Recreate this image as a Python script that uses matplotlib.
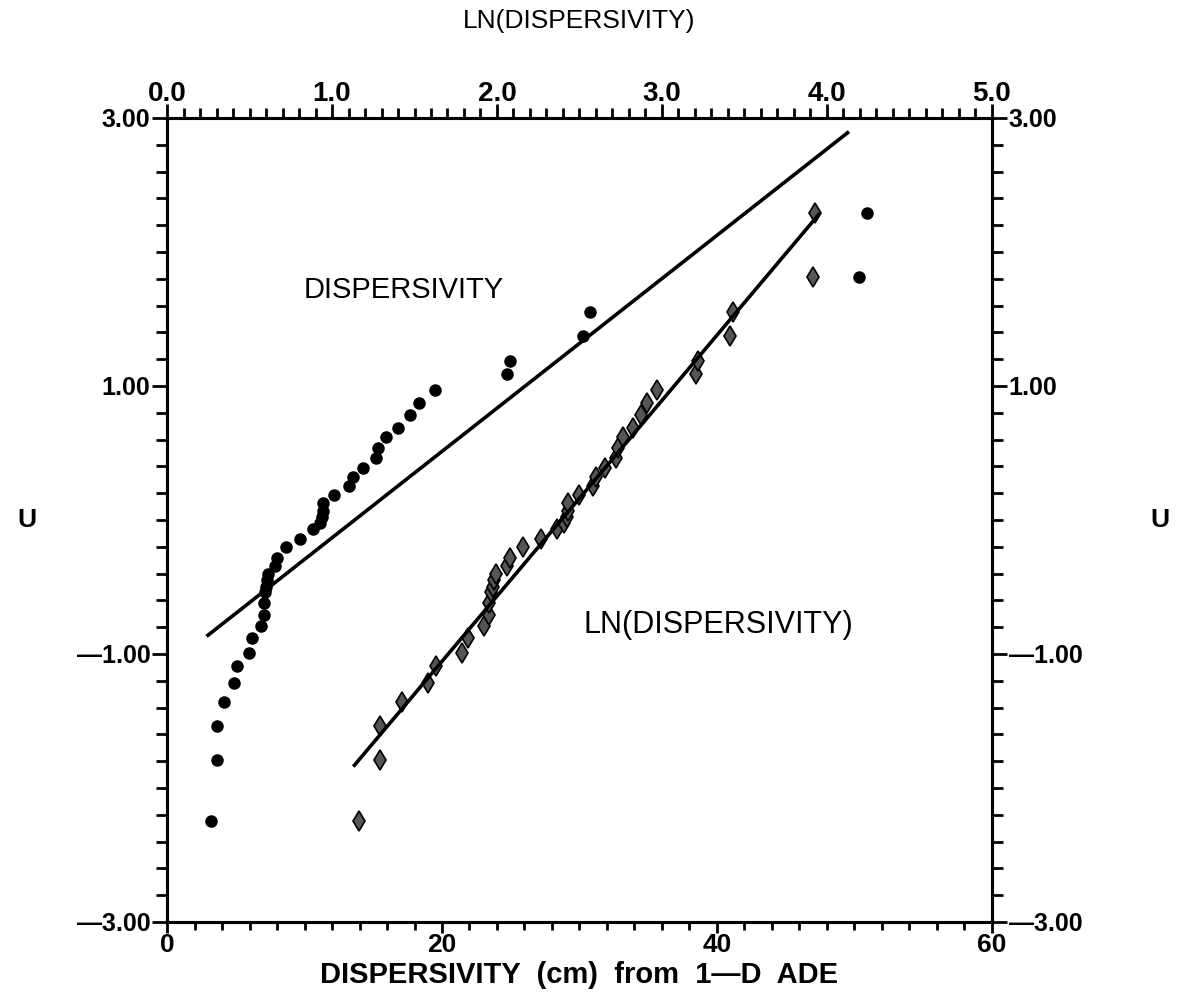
import numpy as np
import matplotlib
matplotlib.use('Agg')
import matplotlib.pyplot as plt
from matplotlib.ticker import FixedLocator, MultipleLocator, FixedFormatter, FormatStrFormatter

# data (dispersivity in cm, normal score U)
disp_cm = [3.2, 3.64, 3.64, 4.15, 4.87, 5.1, 5.96, 6.18, 6.84, 7.05,
           7.05, 7.13, 7.2, 7.27, 7.35, 7.85, 8.0, 8.65, 9.67, 10.6,
           11.1, 11.27, 11.35, 11.35, 12.15, 13.2, 13.5, 14.25, 15.2, 15.35,
           15.9, 16.8, 17.7, 18.3, 19.5, 24.7, 24.95, 30.25, 30.8, 50.3, 50.9]
u_score = [-2.25, -1.79, -1.54, -1.36, -1.22, -1.09, -0.99, -0.88, -0.79, -0.71,
           -0.62, -0.54, -0.50, -0.45, -0.40, -0.34, -0.28, -0.20, -0.14, -0.07,
           -0.02, 0.02, 0.07, 0.13, 0.19, 0.25, 0.32, 0.39, 0.46, 0.54,
           0.62, 0.69, 0.78, 0.87, 0.97, 1.09, 1.19, 1.37, 1.55, 1.81, 2.29]

# fitted normal lines
disp_fit_x = [2.98, 49.5]
disp_fit_u = [-0.86, 2.89]
ln_fit_x = [1.136, 3.95]
ln_fit_u = [-1.83, 2.28]

u_ticks = [-3.0, -1.0, 1.0, 3.0]
u_labels = ['\u20143.00', '\u20141.00', '1.00', '3.00']

# plot properties
font = 'Liberation Sans'
lw_axis = 2.2

plt.rcParams['font.family'] = [font, 'DejaVu Sans']

fig = plt.figure(figsize=(11.87, 10.05), dpi=100)
ax = fig.add_axes([0.1407, 0.0826, 0.695, 0.80])

ax.plot(disp_cm, u_score, 'o', color='k', markersize=8)
ax.plot(disp_fit_x, disp_fit_u, '-', color='k', linewidth=2.6)

ax.set_xlim(0, 60)
ax.set_ylim(-3, 3)
ax.xaxis.set_major_locator(MultipleLocator(20))
ax.xaxis.set_minor_locator(MultipleLocator(2))
ax.yaxis.set_major_locator(FixedLocator(u_ticks))
ax.yaxis.set_major_formatter(FixedFormatter(u_labels))
ax.yaxis.set_minor_locator(MultipleLocator(0.2))
ax.tick_params(axis='both', which='both', direction='out', width=2)
ax.tick_params(axis='y', which='both', left=True, right=True, labelleft=True, labelright=True)
ax.tick_params(axis='y', which='major', length=11, pad=1, labelsize=18)
ax.tick_params(axis='y', which='minor', length=8)
ax.tick_params(axis='x', which='major', length=8, pad=0, labelsize=19)
ax.tick_params(axis='x', which='minor', length=6)
for lab in ax.get_xticklabels() + ax.get_yticklabels():
    lab.set_fontweight('bold')
for sp in ax.spines.values():
    sp.set_linewidth(lw_axis)

ax.set_xlabel('DISPERSIVITY  (cm)  from  1\u2014D  ADE', fontsize=21, fontweight='bold', labelpad=3)

ax.text(9.9, 1.72, 'DISPERSIVITY', fontsize=21, va='center', ha='left')
ax.text(30.3, -0.78, 'LN(DISPERSIVITY)', fontsize=22, va='center', ha='left')

# top axis: natural log of dispersivity
ax2 = ax.twiny()
ax2.plot(np.log(disp_cm), u_score, 'd', markerfacecolor='#555555', markeredgecolor='k',
         markeredgewidth=1.2, markersize=10)
ax2.plot(ln_fit_x, ln_fit_u, '-', color='k', linewidth=2.6)
ax2.set_xlim(0, 5)
ax2.set_ylim(-3, 3)
ax2.xaxis.set_major_locator(MultipleLocator(1.0))
ax2.xaxis.set_major_formatter(FormatStrFormatter('%.1f'))
ax2.xaxis.set_minor_locator(MultipleLocator(0.1))
ax2.tick_params(axis='x', which='both', direction='out', width=2, labelsize=20)
ax2.tick_params(axis='x', which='major', length=10, pad=-2)
ax2.tick_params(axis='x', which='minor', length=7)
for lab in ax2.get_xticklabels():
    lab.set_fontweight('bold')
ax2.set_xlabel('LN(DISPERSIVITY)', fontsize=19, labelpad=38)
for sp in ax2.spines.values():
    sp.set_linewidth(lw_axis)

fig.text(27 / 1187, 0.4826, 'U', fontsize=19, fontweight='bold', va='center', ha='center')
fig.text(1160 / 1187, 0.4826, 'U', fontsize=19, fontweight='bold', va='center', ha='center')

fig.savefig('out.png', dpi=100)
